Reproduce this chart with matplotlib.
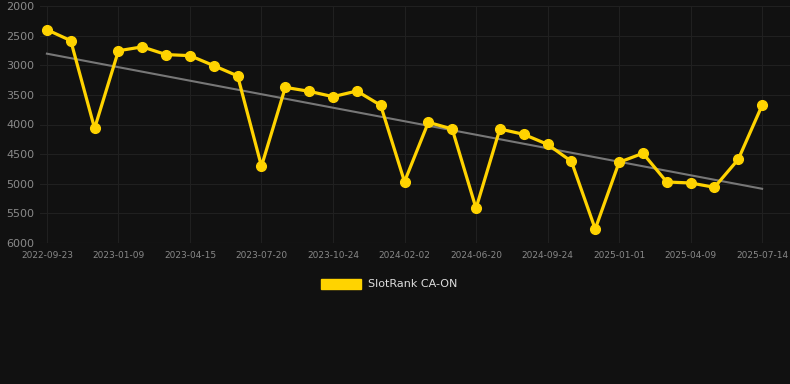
import matplotlib
matplotlib.use("Agg")
import matplotlib.pyplot as plt
import numpy as np
from matplotlib.patches import Patch

tick_labels = ["2022-09-23", "2023-01-09", "2023-04-15", "2023-07-20", "2023-10-24",
               "2024-02-02", "2024-06-20", "2024-09-24", "2025-01-01", "2025-04-09", "2025-07-14"]
ranks = [2400, 2585, 4065, 2755, 2690, 2820, 2838, 3007, 3180, 4705,
         3373, 3440, 3530, 3435, 3676, 4965, 3963, 4076, 5414, 4076,
         4166, 4335, 4622, 5764, 4638, 4486, 4970, 4987, 5060, 4588, 3676]
series_name = "SlotRank CA-ON"

bg = "#111111"
fig = plt.figure(figsize=(7.9, 3.84), dpi=100, facecolor=bg)
ax = fig.add_axes([40/790, 1-243/384, 750/790, 237/384], facecolor=bg)

x = np.arange(len(ranks))
coef = np.polyfit(x, ranks, 1)
ax.plot(x, np.polyval(coef, x), color="#777777", lw=1.5, zorder=2)
ax.plot(x, ranks, color="#FFD300", lw=2.3, marker="o", ms=7, zorder=3, label=series_name)

ax.set_ylim(6000, 2000)
ax.set_xlim(-0.29, 31.17)
ax.set_yticks(np.arange(2000, 6001, 500))
ax.set_xticks(x[::3])
ax.set_xticklabels(tick_labels)
ax.tick_params(axis="y", colors="#8a8a8a", labelsize=8, length=0, pad=4)
ax.tick_params(axis="x", colors="#888888", labelsize=6.5, length=0, pad=6)
ax.grid(True, color="#202020", lw=0.8)
ax.axhline(6000, color="#2a2a2a", lw=0.8, zorder=1)
ax.set_axisbelow(True)
for s in ax.spines.values():
    s.set_visible(False)

fig.legend(handles=[Patch(facecolor="#FFD300", edgecolor="#FFD300")], labels=[series_name],
           loc="center", bbox_to_anchor=(0.5 - 6/790, 1-284/384), frameon=False,
           handlelength=3.6, handleheight=1.0, handletextpad=0.6,
           fontsize=8, labelcolor="#dddddd")

fig.savefig("out.png", dpi=100, facecolor=bg)
